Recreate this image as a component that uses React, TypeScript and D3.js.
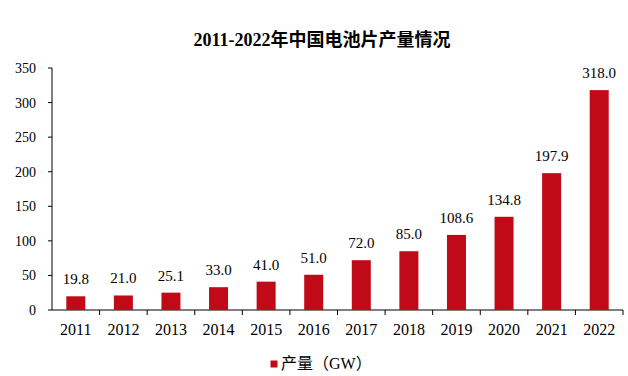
import React from "react";
import * as d3 from "d3";

const years = ["2011","2012","2013","2014","2015","2016","2017","2018","2019","2020","2021","2022"];
const output = [19.8, 21.0, 25.1, 33.0, 41.0, 51.0, 72.0, 85.0, 108.6, 134.8, 197.9, 318.0];
const yTicks = [0, 50, 100, 150, 200, 250, 300, 350];
const legendLabel = "产量";

const W = 628, H = 376;
const left = 52, right = 623, top = 68, bottom = 310;
const color = "#C00A18";
const serif = "'Liberation Serif', 'Times New Roman', serif";
const cjk = "'Noto Sans CJK SC', sans-serif";

export default function App() {
  const band = d3.scaleBand<string>().domain(years).range([left, right]);
  const y = d3.scaleLinear().domain([0, 350]).range([bottom, top]);
  const bw = 19;
  return (
    <svg width={W} height={H} style={{ position: "absolute", left: 0, top: 0, background: "#fff" }}>
      <text x={322} y={46} textAnchor="middle" fontSize={18} fontWeight="bold">
        <tspan fontFamily={serif}>2011-2022</tspan>
        <tspan fontFamily={cjk}>年中国电池片产量情况</tspan>
      </text>
      {/* y axis */}
      <line x1={left} x2={left} y1={top} y2={bottom} stroke="#000" strokeWidth={1} />
      {yTicks.map(t => (
        <g key={t}>
          <line x1={left - 4} x2={left} y1={y(t)} y2={y(t)} stroke="#000" />
          <text x={36} y={y(t) + 5} textAnchor="end" fontSize={14} fontFamily={serif}>{t}</text>
        </g>
      ))}
      {/* x axis */}
      <line x1={left} x2={right} y1={bottom} y2={bottom} stroke="#000" />
      {years.map((yr) => {
        const tx = (band(yr) as number) + band.bandwidth();
        return <line key={"t" + yr} x1={tx} x2={tx} y1={bottom} y2={bottom + 5} stroke="#000" />;
      })}
      {years.map((yr, i) => {
        const cx = (band(yr) as number) + band.bandwidth() / 2;
        return (
          <g key={yr}>
            <rect x={cx - bw / 2} y={y(output[i])} width={bw} height={bottom - y(output[i])} fill={color} />
            <text x={cx} y={y(output[i]) - 12} textAnchor="middle" fontSize={15} fontFamily={serif}>{output[i].toFixed(1)}</text>
            <text x={cx} y={335} textAnchor="middle" fontSize={16} fontFamily={serif}>{yr}</text>
          </g>
        );
      })}
      {/* legend */}
      <rect x={270.5} y={360.5} width={7} height={7} fill={color} />
      <text x={281} y={369} fontSize={16} fontFamily={cjk}>
        {legendLabel}（<tspan fontFamily={serif}>GW</tspan>）
      </text>
    </svg>
  );
}
